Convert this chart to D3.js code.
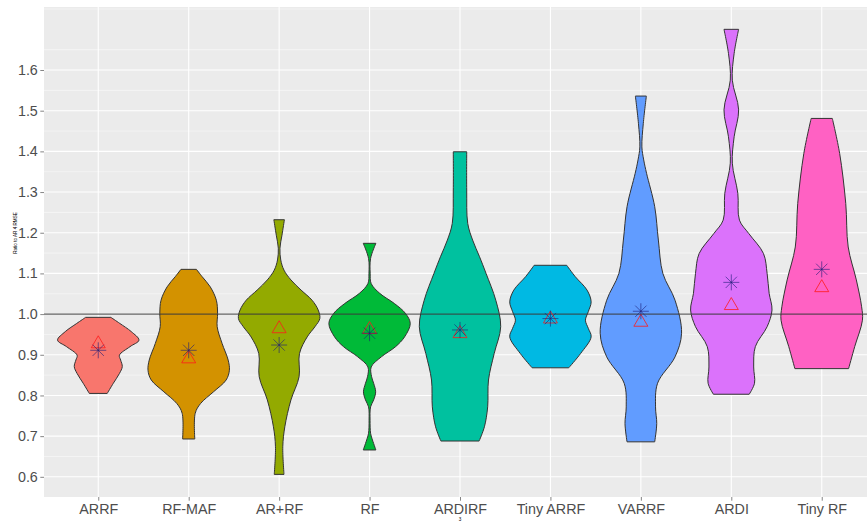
<!DOCTYPE html>
<html><head><meta charset="utf-8">
<script src="https://cdn.jsdelivr.net/npm/d3@7"></script>
<style>body{margin:0;background:#fff;overflow:hidden}</style>
</head><body><svg id="c" width="867" height="521"></svg>
<script>
// ---- data ----
const categories = ["ARRF","RF-MAF","AR+RF","RF","ARDIRF","Tiny ARRF","VARRF","ARDI","Tiny RF"];
const fillColors = ["#F8766D","#D39200","#93AA00","#00BA38","#00C19F","#00B9E3","#619CFF","#DB72FB","#FF61C3"];
const yTicks = [0.6,0.7,0.8,0.9,1.0,1.1,1.2,1.3,1.4,1.5,1.6];
const yTickLabels = ["0.6","0.7","0.8","0.9","1.0","1.1","1.2","1.3","1.4","1.5","1.6"];
const meanValues = [0.911,0.911,0.924,0.953,0.961,0.989,1.007,1.078,1.110];
const triValues  = [0.927,0.890,0.964,0.962,0.952,0.988,0.980,1.021,1.065];
const refValue = 1.0;
const yTitle = "Ratio to AR 4 RMSE";
const xTitle = "3";

// violin density profiles: [value, relative density (1 = widest)]
const densARRF = [[0.992,0.31],[0.977,0.53],[0.957,0.81],[0.936,1.0],[0.920,0.78],[0.899,0.52],[0.887,0.55],[0.871,0.59],[0.854,0.52],[0.830,0.37],[0.805,0.22]];
const densRFMAF = [[1.110,0.19],[1.092,0.33],[1.067,0.53],[1.034,0.68],[1.002,0.71],[0.969,0.70],[0.928,0.82],[0.887,0.97],[0.862,1.0],[0.838,0.92],[0.809,0.61],[0.780,0.29],[0.756,0.16],[0.693,0.15]];
const densARRFplus = [[1.232,0.13],[1.194,0.07],[1.162,0.02],[1.133,0.04],[1.108,0.12],[1.084,0.29],[1.059,0.54],[1.034,0.81],[1.010,0.96],[0.989,1.0],[0.969,0.88],[0.944,0.69],[0.903,0.50],[0.846,0.49],[0.789,0.29],[0.723,0.14],[0.674,0.09],[0.606,0.12]];
const densRF = [[1.174,0.155],[1.137,0.025],[1.100,0.015],[1.075,0.04],[1.051,0.25],[1.026,0.61],[1.002,0.88],[0.977,1.0],[0.944,0.86],[0.920,0.64],[0.895,0.29],[0.870,0.04],[0.846,0.05],[0.830,0.10],[0.809,0.15],[0.789,0.10],[0.772,0.025],[0.739,0.012],[0.707,0.025],[0.694,0.06],[0.666,0.155]];
const densARDIRF = [[1.399,0.165],[1.305,0.165],[1.223,0.19],[1.182,0.31],[1.141,0.48],[1.100,0.64],[1.034,0.88],[0.969,1.0],[0.903,0.84],[0.838,0.70],[0.772,0.68],[0.723,0.60],[0.688,0.47]];
const densTinyARRF = [[1.120,0.40],[1.092,0.61],[1.059,0.90],[1.030,1.0],[1.006,0.93],[0.985,0.86],[0.965,0.93],[0.944,1.0],[0.903,0.74],[0.868,0.45]];
const densVARRF = [[1.536,0.135],[1.469,0.06],[1.411,0.025],[1.379,0.07],[1.346,0.14],[1.264,0.34],[1.182,0.43],[1.100,0.54],[1.034,0.84],[0.953,1.0],[0.895,0.84],[0.830,0.41],[0.772,0.36],[0.731,0.39],[0.686,0.34]];
const densARDI = [[1.700,0.18],[1.641,0.07],[1.575,0.025],[1.502,0.18],[1.436,0.07],[1.371,0.025],[1.297,0.16],[1.231,0.20],[1.198,0.43],[1.149,0.79],[1.100,0.88],[1.051,0.93],[1.010,1.0],[0.969,0.88],[0.920,0.59],[0.870,0.55],[0.830,0.57],[0.803,0.44]];
const densTinyRF = [[1.481,0.26],[1.395,0.44],[1.272,0.59],[1.165,0.65],[1.084,0.85],[1.018,0.98],[0.985,1.0],[0.920,0.81],[0.866,0.66]];
const profiles = [densARRF,densRFMAF,densARRFplus,densRF,densARDIRF,densTinyARRF,densVARRF,densARDI,densTinyRF];

// ---- layout ----
const panel = {left:44, top:7, right:876, bottom:497};
const svg = d3.select("#c");

const y = d3.scaleLinear().domain([0.5504, 1.7549]).range([panel.bottom, panel.top]);
const x = d3.scalePoint().domain(categories).range([panel.left, panel.right]).padding(0.6);
const step = x.step();
const halfMax = 0.45 * step;

// panel bg
svg.append("rect").attr("x",panel.left).attr("y",panel.top)
  .attr("width",panel.right-panel.left).attr("height",panel.bottom-panel.top).attr("fill","#EBEBEB");

// minor grid
const minor = d3.range(0.55, 1.76, 0.1).map(v=>+v.toFixed(2)).filter(v=>v>=y.domain()[0] && v<=y.domain()[1]);
svg.append("g").selectAll("line").data(minor).join("line")
  .attr("x1",panel.left).attr("x2",panel.right)
  .attr("y1",d=>y(d)).attr("y2",d=>y(d))
  .attr("stroke","#FAFAFA").attr("stroke-width",0.6);
// major grid
svg.append("g").selectAll("line").data(yTicks).join("line")
  .attr("x1",panel.left).attr("x2",panel.right)
  .attr("y1",d=>y(d)).attr("y2",d=>y(d))
  .attr("stroke","#fff").attr("stroke-width",1.1);
svg.append("g").selectAll("line").data(categories).join("line")
  .attr("y1",panel.top).attr("y2",panel.bottom)
  .attr("x1",d=>x(d)).attr("x2",d=>x(d))
  .attr("stroke","#fff").attr("stroke-width",1.1);

// violins
const area = d3.area()
  .curve(d3.curveCatmullRom.alpha(0.5))
  .y(d=>y(d[0]));
categories.forEach((c,i)=>{
  const cx = x(c);
  area.x0(d=>cx - d[1]*halfMax).x1(d=>cx + d[1]*halfMax);
  svg.append("path").datum(profiles[i]).attr("d",area)
    .attr("fill",fillColors[i]).attr("stroke","#333333").attr("stroke-width",1);
});

// reference line
svg.append("line").attr("x1",panel.left).attr("x2",panel.right)
  .attr("y1",y(refValue)).attr("y2",y(refValue))
  .attr("stroke","#3a3a3a").attr("stroke-width",1);

// triangles
const tri = svg.append("g");
categories.forEach((c,i)=>{
  const cx = x(c), cy = y(triValues[i]);
  tri.append("path")
    .attr("d",`M${cx},${cy-8}L${cx+7},${cy+4}L${cx-7},${cy+4}Z`)
    .attr("fill","none").attr("stroke","#ff1a1a").attr("stroke-opacity",0.8).attr("stroke-width",1);
});
// asterisks
const ast = svg.append("g");
categories.forEach((c,i)=>{
  const cx = x(c), cy = y(meanValues[i]), r = 8, d = r*Math.SQRT1_2;
  ast.append("path")
    .attr("d",`M${cx-r},${cy}H${cx+r}M${cx},${cy-r}V${cy+r}M${cx-d},${cy-d}L${cx+d},${cy+d}M${cx-d},${cy+d}L${cx+d},${cy-d}`)
    .attr("fill","none").attr("stroke","#1c1c78").attr("stroke-opacity",0.6).attr("stroke-width",1);
});

// axes
const yAxis = d3.axisLeft(y).tickValues(yTicks).tickFormat((d,i)=>yTickLabels[i]).tickSize(3.7).tickPadding(2.5);
const gy = svg.append("g").attr("transform",`translate(${panel.left},0)`).call(yAxis);
gy.select(".domain").remove();
gy.selectAll(".tick line").attr("stroke","#333").attr("stroke-opacity",0.6);
gy.selectAll("text").attr("fill","#4D4D4D").attr("font-family","Liberation Sans, Arial, sans-serif").attr("font-size","14.3px");

const xAxis = d3.axisBottom(x).tickSize(3.7).tickPadding(3);
const gx = svg.append("g").attr("transform",`translate(0,${panel.bottom})`).call(xAxis);
gx.select(".domain").remove();
gx.selectAll(".tick line").attr("stroke","#333").attr("stroke-opacity",0.6);
gx.selectAll("text").attr("fill","#4D4D4D").attr("font-family","Liberation Sans, Arial, sans-serif").attr("font-size","14.3px");

// titles
svg.append("text").attr("transform","translate(16.5,233) rotate(-90)")
  .attr("text-anchor","middle").attr("font-family","Liberation Sans, Arial, sans-serif")
  .attr("font-size","4.6px").attr("fill","#000").text(yTitle);
svg.append("text").attr("x",x("ARDIRF")).attr("y",520.5)
  .attr("text-anchor","middle").attr("font-family","Liberation Sans, Arial, sans-serif")
  .attr("font-size","4.6px").attr("fill","#000").text(xTitle);
</script></body></html>
